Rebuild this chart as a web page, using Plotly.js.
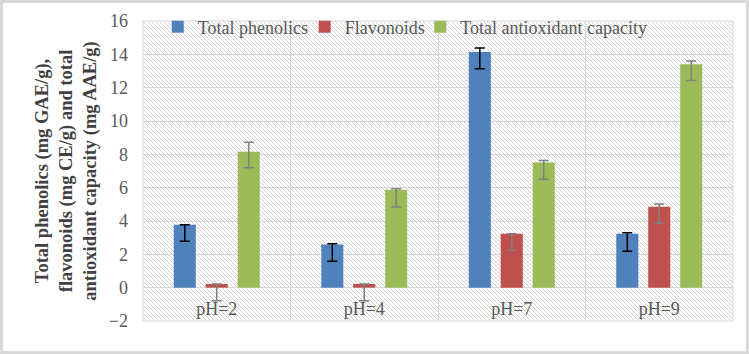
<!DOCTYPE html>
<html>
<head>
<meta charset="utf-8">
<script src="https://cdn.plot.ly/plotly-3.0.1.min.js"></script>
<style>
  html, body { margin: 0; padding: 0; background: #fff; }
  #frame { width: 749px; height: 354px; box-sizing: border-box; border: 3px solid #d9d9d9; position: relative; overflow: hidden; }
  #chart { position: absolute; left: -3px; top: -3px; width: 749px; height: 354px; }
</style>
</head>
<body>
<div id="frame"><div id="chart"></div></div>
<script>
const categories = ["pH=2", "pH=4", "pH=7", "pH=9"];

const phenolics = [3.78, 2.59, 14.14, 3.23];
const phenolicsErrPlus = [0.0, 0.04, 0.24, 0.06];
const phenolicsErrMinus = [0.99, 1.01, 1.01, 1.04];

const flavonoids = [0.22, 0.22, 3.23, 4.86];
const flavonoidsErrPlus = [0.0, 0.0, 0.0, 0.16];
const flavonoidsErrMinus = [1.0, 1.0, 1.0, 0.99];

const antioxidant = [8.15, 5.88, 7.51, 13.41];
const antioxidantErrPlus = [0.57, 0.06, 0.12, 0.19];
const antioxidantErrMinus = [0.96, 1.04, 1.0, 0.98];

const seriesNames = ["Total phenolics", "Flavonoids", "Total antioxidant capacity"];
const yTitle = "Total phenolics (mg GAE/g),<br>flavonoids (mg CE/g) and total<br>antioxidant capacity (mg AAE/g)";

const serif = "'Liberation Serif', 'Times New Roman', serif";

function bar(name, vals, plus, minus, color, errColor, legendId) {
  return {
    type: "bar", name: name, x: categories, y: vals, legend: legendId,
    marker: { color: color },
    error_y: { type: "data", symmetric: false, array: plus, arrayminus: minus,
               color: errColor, thickness: 1.5, width: 5 }
  };
}

const traces = [
  bar(seriesNames[0], phenolics, phenolicsErrPlus, phenolicsErrMinus, "#4F81BD", "#000000", "legend"),
  bar(seriesNames[1], flavonoids, flavonoidsErrPlus, flavonoidsErrMinus, "#C0504D", "#808080", "legend2"),
  bar(seriesNames[2], antioxidant, antioxidantErrPlus, antioxidantErrMinus, "#9BBB59", "#808080", "legend3")
];

let lines = "";
for (let i = -400; i < 1000; i += 4) {
  lines += `<line x1="${i}" y1="0" x2="${i + 400}" y2="400" stroke="#d3d3d3" stroke-width="1"/>`;
}
const hatch = `<svg xmlns="http://www.w3.org/2000/svg" width="590" height="300" viewBox="0 0 590 300">${lines}</svg>`;
const hatchUri = "data:image/svg+xml;charset=utf-8," + encodeURIComponent(hatch);

function legendAt(x) {
  return {
    orientation: "h", x: x, y: 0.98, xanchor: "left", yanchor: "middle",
    font: { family: serif, size: 18, color: "#595959" },
    bgcolor: "rgba(0,0,0,0)", itemwidth: 30
  };
}

const layout = {
  width: 749, height: 354,
  margin: { l: 143, r: 16, t: 21, b: 33, autoexpand: false },
  paper_bgcolor: "rgba(0,0,0,0)",
  plot_bgcolor: "#ffffff",
  barmode: "group",
  bargap: 0.35,
  bargroupgap: 0.31,
  font: { family: serif, color: "#595959", size: 17 },
  showlegend: true,
  legend: legendAt(0.025),
  legend2: legendAt(0.274),
  legend3: legendAt(0.47),
  xaxis: {
    type: "category",
    anchor: "free", position: 2 / 18,
    showgrid: true, gridcolor: "#d9d9d9", gridwidth: 1,
    tickson: "boundaries", ticks: "", showline: false,
    ticklabelstandoff: 8,
    tickfont: { family: serif, size: 18, color: "#595959" },
    zeroline: false, fixedrange: true
  },
  yaxis: {
    range: [-2, 16], dtick: 2, tick0: 0,
    showgrid: true, gridcolor: "#d9d9d9", gridwidth: 1,
    zeroline: false, showline: false, ticks: "",
    ticklabelstandoff: 14,
    tickfont: { family: serif, size: 18, color: "#595959" },
    title: { text: yTitle, font: { family: serif, size: 18.5, color: "#404040", weight: "bold" }, standoff: 7 }
  },
  images: [{
    source: hatchUri, xref: "paper", yref: "paper", x: 0, y: 1,
    sizex: 1, sizey: 1, sizing: "stretch", xanchor: "left", yanchor: "top", layer: "below"
  }],
  shapes: [{
    type: "rect", xref: "paper", yref: "paper", x0: 0, x1: 1, y0: 0, y1: 1,
    line: { color: "#d9d9d9", width: 1 }, fillcolor: "rgba(0,0,0,0)", layer: "below"
  }]
};

Plotly.newPlot("chart", traces, layout, { displayModeBar: false, staticPlot: true });
</script>
</body>
</html>
